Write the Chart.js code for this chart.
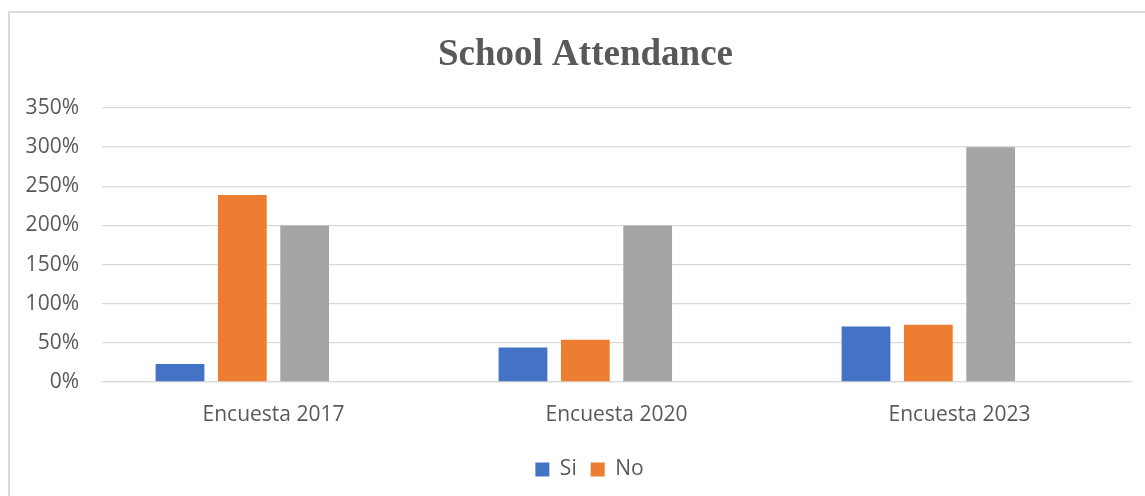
<!DOCTYPE html>
<html>
<head>
<meta charset="utf-8">
<title>School Attendance</title>
<script src="https://cdn.jsdelivr.net/npm/chart.js@4/dist/chart.umd.min.js"></script>
<style>
  html, body { margin: 0; padding: 0; background: #ffffff; }
  #wrap { position: relative; width: 1145px; height: 496px; overflow: hidden; }
  #frame {
    position: absolute; left: 8px; top: 11px; right: -4px; bottom: -4px;
    border-left: 2px solid #dadada; border-top: 2px solid #dadada;
    pointer-events: none;
  }
  canvas { position: absolute; left: 0; top: 0; }
</style>
</head>
<body>
<div id="wrap">
  <canvas id="chart" width="1145" height="496"></canvas>
  <div id="frame"></div>
</div>
<script>
// Survey rounds on the x axis
const categories = ['Encuesta 2017', 'Encuesta 2020', 'Encuesta 2023'];

// Attendance answers, in percent
const siValues = [23, 44, 71];
const noValues = [239, 54, 73];
const totalValues = [200, 200, 300];
const emptyValues = [null, null, null];

// Value axis
const yMin = 0;
const yMax = 350;
const yStep = 50;

const textColor = '#595959';
const gridColor = '#d9d9d9';
const sansFont = "'Open Sans', 'Noto Sans', sans-serif";

// The title and legend are centred on the whole frame, which reaches
// further right than the plot, so nudge both blocks after layout.
const centreOnFrame = {
  id: 'centreOnFrame',
  afterLayout(chart) {
    const shifts = [[chart.titleBlock, 20], [chart.legend, 24]];
    for (const [box, dx] of shifts) {
      if (box) { box.left += dx; box.right += dx; }
    }
  }
};

new Chart(document.getElementById('chart'), {
  type: 'bar',
  data: {
    labels: categories,
    datasets: [
      { label: 'Si', data: siValues, backgroundColor: '#4472C4' },
      { label: 'No', data: noValues, backgroundColor: '#ED7D31' },
      { label: 'Total', data: totalValues, backgroundColor: '#A5A5A5' },
      { label: 'Otro', data: emptyValues, backgroundColor: '#FFC000' }
    ]
  },
  plugins: [centreOnFrame],
  options: {
    responsive: false,
    animation: false,
    events: [],
    layout: { padding: { top: 12, right: 14, bottom: 6, left: 0 } },
    datasets: {
      bar: { categoryPercentage: 0.727, barPercentage: 0.782 }
    },
    plugins: {
      title: {
        display: true,
        text: 'School Attendance',
        color: textColor,
        font: { family: "'Liberation Serif', 'Times New Roman', serif", size: 37, weight: 'bold', lineHeight: 1.2 },
        padding: { top: 21, bottom: 30.6 }
      },
      legend: {
        position: 'bottom',
        labels: {
          color: textColor,
          font: { family: sansFont, size: 21 },
          boxWidth: 14,
          boxHeight: 14,
          padding: 14,
          filter: (item) => item.datasetIndex < 2
        }
      },
      tooltip: { enabled: false }
    },
    scales: {
      x: {
        grid: { display: false, drawTicks: false },
        border: { display: true, color: gridColor, width: 1.3 },
        ticks: {
          color: textColor,
          font: { family: sansFont, size: 21 },
          padding: 20,
          maxRotation: 0
        },
        afterFit: (scale) => { scale.height = 63; }
      },
      y: {
        min: yMin,
        max: yMax,
        grid: { color: gridColor, lineWidth: 1.3, drawTicks: false },
        border: { display: false },
        ticks: {
          stepSize: yStep,
          color: textColor,
          font: { family: sansFont, size: 21 },
          padding: 23,
          callback: (v) => v + '%'
        },
        afterFit: (scale) => { scale.width = 102; }
      }
    }
  }
});
</script>
</body>
</html>
